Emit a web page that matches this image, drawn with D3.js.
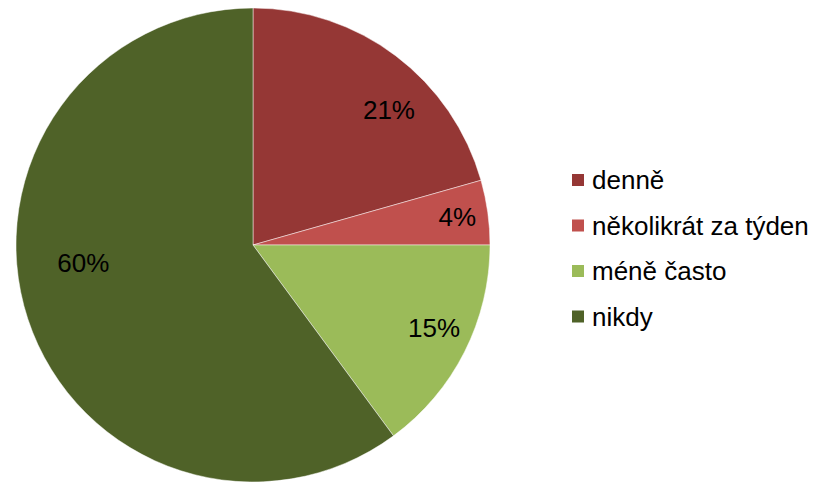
<!DOCTYPE html>
<html><head><meta charset="utf-8">
<script src="https://cdn.jsdelivr.net/npm/d3@7"></script>
<style>body{margin:0;background:#fff}svg{display:block}text{font-family:"Liberation Sans",Arial,sans-serif}</style>
</head><body><svg id="c" width="815" height="482"></svg>
<script>
const categories = ["denně", "několikrát za týden", "méně často", "nikdy"];
const values = [20.6, 4.4, 14.9, 60.1];
const labels = ["21%", "4%", "15%", "60%"];
const colors = ["#953735", "#C0504D", "#9BBB59", "#4F6228"];

const svg = d3.select("#c");
const cx = 253, cy = 245, R = 237;
const pie = d3.pie().sort(null).value(d => d)(values);
const arc = d3.arc().innerRadius(0).outerRadius(R);
const g = svg.append("g").attr("transform", `translate(${cx},${cy})`);
g.selectAll("path").data(pie).join("path")
  .attr("d", arc).attr("fill", (d, i) => colors[i])
  .attr("stroke", "#ffffff").attr("stroke-opacity", 0.6).attr("stroke-width", 0.8);

const labelR = [0.81, 0.87, 0.84, 0.72];
const labelShift = [0.14, 0.0, -0.04, 0.21];
g.selectAll("text.l").data(pie).join("text").attr("class", "l")
  .attr("x", (d, i) => { const a = (d.startAngle + d.endAngle) / 2 + labelShift[i]; return Math.sin(a) * R * labelR[i]; })
  .attr("y", (d, i) => { const a = (d.startAngle + d.endAngle) / 2 + labelShift[i]; return -Math.cos(a) * R * labelR[i]; })
  .attr("text-anchor", "middle").attr("dominant-baseline", "central")
  .attr("font-size", 26).attr("fill", "#000").text((d, i) => labels[i]);

const leg = svg.append("g").attr("transform", "translate(572,180)");
const row = leg.selectAll("g").data(categories).join("g")
  .attr("transform", (d, i) => `translate(0,${i * 45.5})`);
row.append("rect").attr("x", 0).attr("y", -6).attr("width", 12).attr("height", 12)
  .attr("fill", (d, i) => colors[i]);
row.append("text").attr("x", 20).attr("y", 0).attr("dominant-baseline", "central")
  .attr("font-size", 26).attr("fill", "#000").text(d => d);
</script></body></html>
